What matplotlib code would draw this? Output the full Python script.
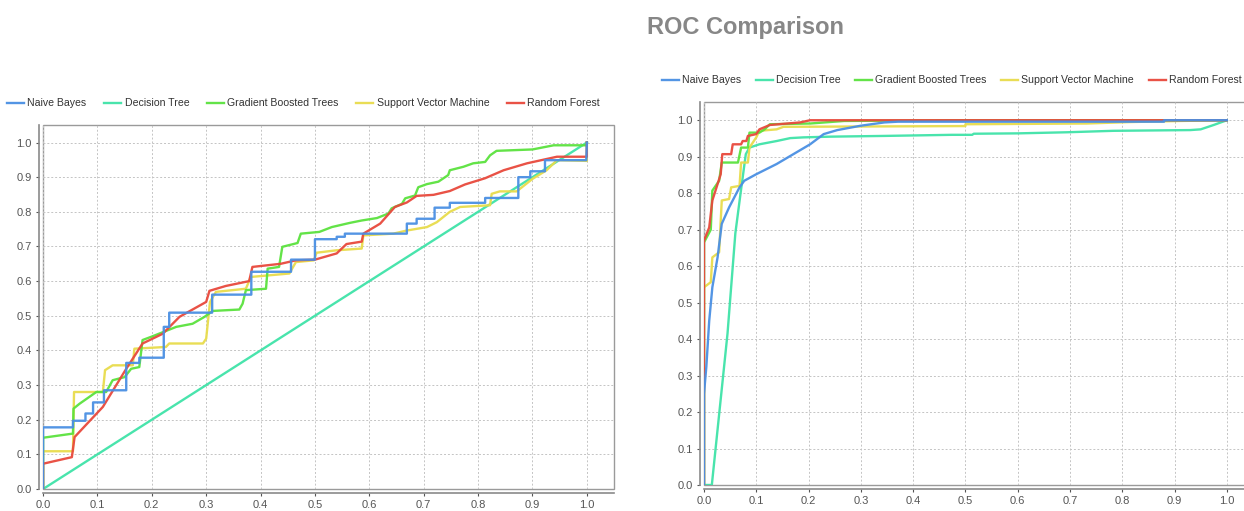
import matplotlib
matplotlib.use("Agg")
import matplotlib.pyplot as plt

plt.rcParams["font.family"] = ["Liberation Sans", "DejaVu Sans"]

models = ["Naive Bayes", "Decision Tree", "Gradient Boosted Trees",
          "Support Vector Machine", "Random Forest"]
colors = ["#4a8fe3", "#3fe3a8", "#5be23e", "#e8dc4c", "#e8493c"]

# ── left panel: (FPR, TPR) points
left_nb_x = [0, 0, 0.055, 0.055, 0.078, 0.078, 0.092, 0.092, 0.112, 0.112, 0.153, 0.153,
             0.177, 0.177, 0.222, 0.222, 0.232, 0.232, 0.311, 0.311, 0.383, 0.383, 0.456, 0.456,
             0.500, 0.500, 0.540, 0.540, 0.555, 0.555, 0.669, 0.669, 0.687, 0.687, 0.720, 0.720,
             0.748, 0.748, 0.813, 0.813, 0.874, 0.874, 0.896, 0.896, 0.923, 0.923, 0.999, 1.0]
left_nb_y = [0, 0.178, 0.178, 0.197, 0.197, 0.218, 0.218, 0.250, 0.250, 0.285, 0.285, 0.364,
             0.364, 0.379, 0.379, 0.468, 0.468, 0.509, 0.509, 0.561, 0.561, 0.627, 0.627, 0.662,
             0.662, 0.721, 0.721, 0.728, 0.728, 0.737, 0.737, 0.766, 0.766, 0.780, 0.780, 0.812,
             0.812, 0.826, 0.826, 0.840, 0.840, 0.900, 0.900, 0.917, 0.917, 0.949, 0.949, 1.0]

left_dt_x = [0, 1.0]
left_dt_y = [0, 1.0]

left_gbt_x = [0, 0, 0.055, 0.056, 0.067, 0.098, 0.116, 0.128, 0.150, 0.162, 0.177, 0.183,
              0.200, 0.245, 0.275, 0.297, 0.312, 0.361, 0.367, 0.373, 0.410, 0.413, 0.434,
              0.440, 0.468, 0.474, 0.508, 0.531, 0.564, 0.586, 0.614, 0.635, 0.641, 0.660,
              0.666, 0.684, 0.690, 0.706, 0.727, 0.745, 0.748, 0.773, 0.791, 0.813, 0.822,
              0.834, 0.900, 0.939, 1.0, 1.0]
left_gbt_y = [0, 0.148, 0.160, 0.232, 0.246, 0.280, 0.280, 0.314, 0.323, 0.347, 0.352, 0.430,
              0.440, 0.468, 0.477, 0.497, 0.514, 0.518, 0.535, 0.574, 0.578, 0.636, 0.641,
              0.699, 0.710, 0.737, 0.742, 0.756, 0.768, 0.775, 0.782, 0.795, 0.810, 0.823,
              0.839, 0.847, 0.871, 0.880, 0.887, 0.906, 0.920, 0.930, 0.940, 0.944, 0.963,
              0.976, 0.980, 0.992, 0.992, 1.0]

left_svm_x = [0, 0, 0.055, 0.057, 0.110, 0.114, 0.128, 0.165, 0.168, 0.226, 0.232, 0.294,
              0.300, 0.307, 0.318, 0.373, 0.382, 0.453, 0.465, 0.498, 0.503, 0.540, 0.586,
              0.589, 0.644, 0.669, 0.706, 0.724, 0.748, 0.767, 0.822, 0.825, 0.840, 0.871,
              0.900, 0.926, 0.945, 1.0, 1.0]
left_svm_y = [0, 0.109, 0.109, 0.280, 0.280, 0.343, 0.357, 0.357, 0.405, 0.410, 0.420, 0.420,
              0.434, 0.540, 0.569, 0.578, 0.612, 0.622, 0.655, 0.660, 0.682, 0.689, 0.694,
              0.732, 0.737, 0.746, 0.756, 0.770, 0.800, 0.814, 0.819, 0.852, 0.859, 0.859,
              0.895, 0.920, 0.949, 0.947, 1.0]

left_rf_x = [0, 0, 0.053, 0.058, 0.110, 0.153, 0.183, 0.220, 0.251, 0.300, 0.306, 0.336,
             0.379, 0.385, 0.437, 0.465, 0.500, 0.540, 0.558, 0.586, 0.589, 0.620, 0.647,
             0.669, 0.687, 0.718, 0.748, 0.776, 0.813, 0.847, 0.890, 0.945, 1.0, 1.0]
left_rf_y = [0, 0.073, 0.092, 0.150, 0.237, 0.347, 0.420, 0.448, 0.497, 0.540, 0.572, 0.586,
             0.600, 0.641, 0.650, 0.660, 0.662, 0.680, 0.707, 0.714, 0.737, 0.766, 0.814,
             0.827, 0.846, 0.849, 0.860, 0.879, 0.897, 0.920, 0.940, 0.959, 0.959, 1.0]

# ── right panel
right_nb_x = [0, 0, 0.0045, 0.010, 0.016, 0.026, 0.034, 0.048, 0.068, 0.077, 0.100, 0.139,
              0.171, 0.203, 0.229, 0.255, 0.300, 0.345, 0.371, 0.880, 0.880, 1.0]
right_nb_y = [0, 0.250, 0.324, 0.450, 0.542, 0.624, 0.716, 0.761, 0.816, 0.834, 0.852, 0.880,
              0.907, 0.934, 0.962, 0.973, 0.985, 0.994, 0.996, 0.996, 1.0, 1.0]

right_dt_x = [0, 0.015, 0.045, 0.060, 0.070, 0.080, 0.087, 0.106, 0.139, 0.165, 0.190, 0.242,
              0.345, 0.474, 0.513, 0.516, 0.600, 0.694, 0.783, 0.930, 0.950, 0.975, 1.0]
right_dt_y = [0, 0, 0.415, 0.690, 0.800, 0.907, 0.925, 0.934, 0.943, 0.951, 0.953, 0.955,
              0.957, 0.960, 0.960, 0.963, 0.964, 0.967, 0.971, 0.973, 0.975, 0.987, 1.0]

right_gbt_x = [0, 0, 0.013, 0.016, 0.029, 0.034, 0.065, 0.071, 0.084, 0.087, 0.106, 0.116,
               0.126, 0.203, 0.268, 0.474, 1.0]
right_gbt_y = [0, 0.665, 0.700, 0.807, 0.834, 0.884, 0.884, 0.925, 0.925, 0.966, 0.966, 0.975,
               0.989, 0.991, 0.998, 1.0, 1.0]

right_svm_x = [0, 0, 0.013, 0.016, 0.029, 0.034, 0.048, 0.052, 0.068, 0.071, 0.084, 0.087,
               0.100, 0.106, 0.139, 0.152, 0.500, 0.500, 0.732, 0.815, 0.910, 1.0]
right_svm_y = [0, 0.542, 0.556, 0.624, 0.638, 0.780, 0.784, 0.816, 0.820, 0.884, 0.884, 0.925,
               0.953, 0.971, 0.975, 0.982, 0.984, 0.989, 0.991, 0.995, 0.998, 1.0]

right_rf_x = [0, 0, 0.010, 0.016, 0.026, 0.032, 0.035, 0.052, 0.055, 0.071, 0.074, 0.081,
              0.084, 0.100, 0.106, 0.126, 0.184, 0.203, 1.0]
right_rf_y = [0, 0.670, 0.706, 0.780, 0.825, 0.852, 0.907, 0.907, 0.934, 0.934, 0.943, 0.943,
              0.957, 0.962, 0.975, 0.987, 0.994, 1.0, 1.0]

left_curves = [(left_nb_x, left_nb_y), (left_dt_x, left_dt_y), (left_gbt_x, left_gbt_y),
               (left_svm_x, left_svm_y), (left_rf_x, left_rf_y)]
right_curves = [(right_nb_x, right_nb_y), (right_dt_x, right_dt_y), (right_gbt_x, right_gbt_y),
                (right_svm_x, right_svm_y), (right_rf_x, right_rf_y)]

ticks = [i / 10 for i in range(11)]

fig = plt.figure(figsize=(12.44, 5.11), dpi=100)
fig.text(0.599, 0.947, "ROC Comparison", ha="center", va="center",
         fontsize=17, fontweight="bold", color="#878787")

ax1 = fig.add_axes([0.0346, 0.043, 0.459, 0.712])
ax2 = fig.add_axes([0.5659, 0.0509, 0.4413, 0.7495])

# draw order: diagonal first, blue on top
order = [1, 3, 2, 4, 0]
fmt = matplotlib.ticker.FormatStrFormatter("%.1f")
for ax, curves in [(ax1, left_curves), (ax2, right_curves)]:
    for i in order:
        xs, ys = curves[i]
        ax.plot(xs, ys, color=colors[i], lw=1.7, label=models[i], alpha=0.95)
    ax.set_xlim(0, 1.05)
    ax.set_ylim(0, 1.05)
    ax.set_xticks(ticks)
    ax.set_yticks(ticks)
    ax.xaxis.set_major_formatter(fmt)
    ax.yaxis.set_major_formatter(fmt)
    ax.grid(True, color="#c4c4c4", linestyle=(0, (2, 2)), linewidth=0.7)
    ax.set_axisbelow(True)
    ax.tick_params(labelsize=8, colors="#555555", length=2, width=0.8, pad=3)
    for side in ["left", "bottom"]:
        ax.spines[side].set_position(("outward", 3))
        ax.spines[side].set_color("#8a8a8a")
        ax.spines[side].set_linewidth(1.2)
    for side in ["top", "right"]:
        ax.spines[side].set_visible(False)
    ax.patch.set_edgecolor("#9a9a9a")
    ax.patch.set_linewidth(1.0)

# legends in model order
for ax, anchor, colsp in [(ax1, (0.244, 0.798), 1.7), (ax2, (0.765, 0.843), 1.4)]:
    handles, labels = ax.get_legend_handles_labels()
    lookup = dict(zip(labels, handles))
    fig.legend([lookup[m] for m in models], models, loc="center", bbox_to_anchor=anchor,
               ncol=5, frameon=False, fontsize=7.6, handlelength=1.6, handletextpad=0.3,
               columnspacing=colsp, labelcolor="#333333")

fig.savefig("out.png", dpi=100)
